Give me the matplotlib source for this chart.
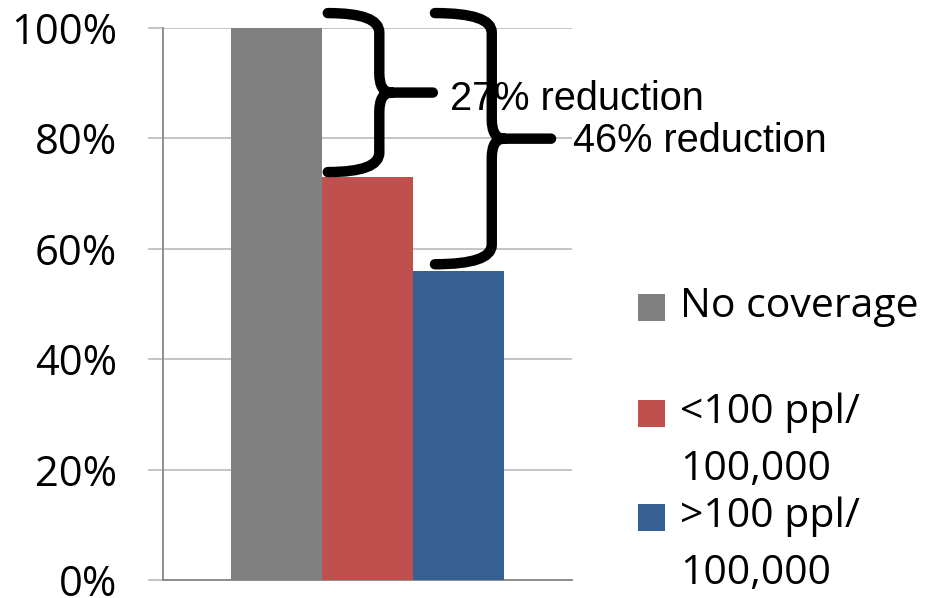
import matplotlib
matplotlib.use("Agg")
import matplotlib.pyplot as plt
from matplotlib.path import Path
from matplotlib.patches import PathPatch, Rectangle
from matplotlib.ticker import PercentFormatter

# Data
series_labels = ["No coverage", "<100 ppl/\n100,000", ">100 ppl/\n100,000"]
series_values = [1.00, 0.73, 0.56]
series_colors = ["#808080", "#C0504D", "#376092"]
y_ticks = [0.0, 0.2, 0.4, 0.6, 0.8, 1.0]
reduction_labels = ["27% reduction", "46% reduction"]

TICK_FONT = "Open Sans"
NOTE_FONT = "Liberation Sans"

fig = plt.figure(figsize=(9.28, 5.98), dpi=100)
ax = fig.add_axes([0.1756, 0.0301, 0.4407, 0.9231])

bar_w = 0.2225
offsets = [(i - 1) * bar_w for i in range(len(series_values))]
for off, val, col in zip(offsets, series_values, series_colors):
    ax.bar(off, val, width=bar_w, color=col, zorder=3, linewidth=0)

ax.set_xlim(-0.5, 0.5)
ax.set_ylim(0, 1)
ax.set_yticks(y_ticks)
ax.yaxis.set_major_formatter(PercentFormatter(xmax=1, decimals=0))
ax.set_xticks([])
ax.grid(axis="y", color="#BFBFBF", linewidth=1.3, zorder=0)
for side in ["top", "right"]:
    ax.spines[side].set_visible(False)
ax.spines["left"].set_color("#868686")
ax.spines["bottom"].set_color("#868686")
ax.spines["left"].set_linewidth(1.3)
ax.spines["bottom"].set_linewidth(1.3)
ax.tick_params(axis="y", length=11, width=1.3, color="#BFBFBF", pad=22,
               labelsize=30)
for lab in ax.get_yticklabels():
    lab.set_fontfamily(TICK_FONT)


def brace(ax, x_left, x_spine, x_tip, y_lo, y_hi, lw=7.5):
    """Right-facing curly brace spanning y_lo..y_hi."""
    y_mid = (y_lo + y_hi) / 2
    ry = 0.035
    rx = 0.03
    verts = [
        (x_left, y_hi),
        (x_spine, y_hi), (x_spine, y_hi - ry),
        (x_spine, y_mid + ry),
        (x_spine, y_mid), (x_spine + rx, y_mid),
        (x_tip, y_mid),
        (x_spine + rx, y_mid),
        (x_spine, y_mid), (x_spine, y_mid - ry),
        (x_spine, y_lo + ry),
        (x_spine, y_lo), (x_left, y_lo),
    ]
    codes = [
        Path.MOVETO,
        Path.CURVE3, Path.CURVE3,
        Path.LINETO,
        Path.CURVE3, Path.CURVE3,
        Path.LINETO,
        Path.MOVETO,
        Path.CURVE3, Path.CURVE3,
        Path.LINETO,
        Path.CURVE3, Path.CURVE3,
    ]
    patch = PathPatch(Path(verts, codes), facecolor="none", edgecolor="black",
                      linewidth=lw, capstyle="round", joinstyle="round",
                      clip_on=False, zorder=6)
    ax.add_patch(patch)
    return y_mid


top_y = 1.027
mid1 = brace(ax, -0.097, 0.029, 0.160, series_values[1] + 0.009, top_y)
mid2 = brace(ax, 0.165, 0.304, 0.449, series_values[2] + 0.012, top_y)

ax.text(0.2017, mid1 - 0.032, reduction_labels[0], fontsize=28.6,
        family=NOTE_FONT, va="baseline", ha="left", zorder=5, clip_on=False)
ax.text(0.5024, mid2 - 0.025, reduction_labels[1], fontsize=28.6,
        family=NOTE_FONT, va="baseline", ha="left", zorder=5, clip_on=False)

# Legend drawn in figure pixel space
W, H = 928, 598
legend_rows = [307, 413, 517]
line_gap = 57
for label, col, yc in zip(series_labels, series_colors, legend_rows):
    fig.patches.append(Rectangle((638 / W, 1 - (yc + 13.5) / H), 27 / W, 27 / H,
                                 transform=fig.transFigure, facecolor=col,
                                 edgecolor="none"))
    for k, line in enumerate(label.split("\n")):
        fig.text(680 / W, 1 - (yc + k * line_gap) / H, line, fontsize=29.5,
                 family=TICK_FONT, va="center", ha="left")

fig.savefig("out.png", dpi=100)
